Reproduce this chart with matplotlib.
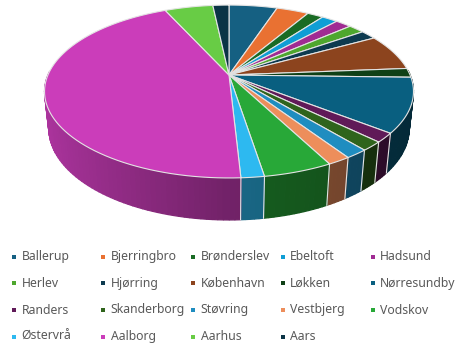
import numpy as np
import matplotlib
matplotlib.use("Agg")
import matplotlib.pyplot as plt
from matplotlib.patches import Polygon, Rectangle
from matplotlib.colors import to_rgb

# share of records per town (counts)
towns = ["Ballerup", "Bjerringbro", "Brønderslev", "Ebeltoft", "Hadsund",
         "Herlev", "Hjørring", "København", "Løkken", "Nørresundby",
         "Randers", "Skanderborg", "Støvring", "Vestbjerg", "Vodskov",
         "Østervrå", "Aalborg", "Aarhus", "Aars"]
counts = [3, 2, 1, 1, 1, 1, 1, 4, 1, 6, 1, 1, 1, 1, 3, 1, 26, 3, 1]
palette = ["#156082", "#E97132", "#196B24", "#0F9ED5", "#A02B93",
           "#4EA72E", "#0D3A4F", "#8C441E", "#0F4016", "#095F80",
           "#601A58", "#2F641C", "#1F8DC0", "#ED8E5B", "#28A838",
           "#2DB9F0", "#CB3DBA", "#68CC45", "#0B3446"]

W, H = 457, 347
fig = plt.figure(figsize=(W / 100, H / 100), dpi=100)
ax = fig.add_axes([0, 0, 1, 1])
ax.set_xlim(0, W)
ax.set_ylim(H, 0)
ax.axis("off")

# simple perspective camera looking down on a unit disc
CX, CY = 229, 75
FOCAL = 842.0
DIST = 4.65
TILT = np.arcsin(0.46)
THICK = 0.232
EDGE = "#E4E4E4"


def project(px, py, pz):
    depth = DIST + py * np.cos(TILT) - pz * np.sin(TILT)
    x = CX + FOCAL * px / depth
    y = CY - FOCAL * (py * np.sin(TILT) + pz * np.cos(TILT)) / depth
    return x, y


def rim(theta, z):
    return project(np.cos(theta), np.sin(theta), z)


def side_shade(c):
    return 0.56 - 0.3 * c if c < 0 else 0.56 - 0.13 * c


# slices run clockwise from 12 o'clock
fracs = np.array(counts, dtype=float) / sum(counts)
edges = np.concatenate([[0], np.cumsum(fracs)]) * 2 * np.pi
theta_edges = np.pi / 2 - edges

# side wall, split into thin strips for the shading
strips = []
for i, col in enumerate(palette):
    t0, t1 = theta_edges[i], theta_edges[i + 1]
    n = max(2, int(np.ceil(abs(t0 - t1) / np.radians(1.5))))
    ts = np.linspace(t0, t1, n + 1)
    for a, b in zip(ts[:-1], ts[1:]):
        mid = 0.5 * (a + b)
        if np.sin(mid) > 0.05:
            continue
        pts = [rim(a, 0), rim(b, 0), rim(b, -THICK), rim(a, -THICK)]
        shade = np.clip(np.array(to_rgb(col)) * side_shade(np.cos(mid)), 0, 1)
        strips.append((np.sin(mid), pts, shade))

for _, pts, shade in sorted(strips, key=lambda s: -s[0]):
    ax.add_patch(Polygon(pts, closed=True, facecolor=shade, edgecolor=shade,
                         linewidth=0.9))

# slice borders on the wall
for t in theta_edges[:-1]:
    if np.sin(t) < -0.25:
        (x0, y0), (x1, y1) = rim(t, 0), rim(t, -THICK)
        ax.plot([x0, x1], [y0, y1], color=EDGE, linewidth=0.8)

# top face
for i, col in enumerate(palette):
    ts = np.linspace(theta_edges[i], theta_edges[i + 1], 80)
    arc = [rim(t, 0) for t in ts]
    pts = [project(0, 0, 0)] + arc
    ax.add_patch(Polygon(pts, closed=True, facecolor=col, edgecolor=EDGE,
                         linewidth=0.8, joinstyle="round"))

# legend laid out in five fixed-width columns
LEG_X = [14, 103.3, 193.3, 282.7, 372.7]
LEG_Y = [256.7, 283.3, 310, 336.7]
for i, (name, col) in enumerate(zip(towns, palette)):
    row, c = divmod(i, 5)
    x, y = LEG_X[c], LEG_Y[row]
    ax.add_patch(Rectangle((x - 2, y - 2), 4, 4, facecolor=col, edgecolor="none"))
    ax.text(x + 7.5, y, name, ha="left", va="center", fontsize=8.8,
            family="Noto Sans", color="#595959")

fig.savefig("out.png", dpi=100, facecolor="white")
